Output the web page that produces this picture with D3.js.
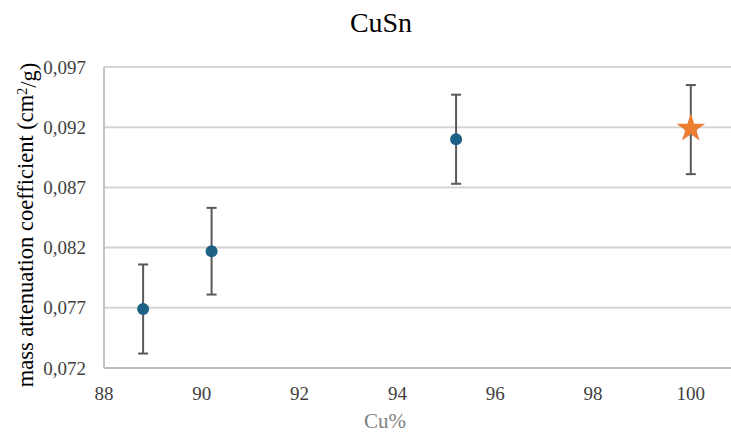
<!DOCTYPE html>
<html>
<head>
<meta charset="utf-8">
<script src="https://cdnjs.cloudflare.com/ajax/libs/d3/7.8.5/d3.min.js"></script>
<style>
  body { margin: 0; background: #fff; }
  text { font-family: "Liberation Serif", "Times New Roman", serif; }
</style>
</head>
<body>
<div id="chart"></div>
<script>
// data
const cuPercent = [88.8, 90.2, 95.2, 100];
const attenuation = [0.0769, 0.0817, 0.0910, 0.0918];
const errors = [0.0037, 0.0036, 0.0037, 0.0037];
const pureCu = [{ x: 100, y: 0.0919 }];
const yTicks = [0.072, 0.077, 0.082, 0.087, 0.092, 0.097];
const xTicks = [88, 90, 92, 94, 96, 98, 100];

const width = 731, height = 432;

const svg = d3.select("#chart")
    .append("svg")
    .attr("width", width)
    .attr("height", height);

const x = d3.scaleLinear()
    .domain([88, 102])
    .range([104, 104 + 14 * 48.9]);

const y = d3.scaleLinear()
    .domain([0.072, 0.097])
    .range([368, 67]);

const fmt = d => d3.format(".3f")(d).replace(".", ",");

// horizontal gridlines
svg.append("g")
    .selectAll("line")
    .data(yTicks)
    .enter().append("line")
    .attr("x1", x(88))
    .attr("x2", width)
    .attr("y1", d => y(d))
    .attr("y2", d => y(d))
    .style("stroke", d => d === 0.072 ? "#bcbcbc" : "#d4d4d4")
    .style("stroke-width", 2);

// left axis line
svg.append("line")
    .attr("x1", x(88)).attr("x2", x(88))
    .attr("y1", y(0.097)).attr("y2", y(0.072))
    .style("stroke", "#c4c4c4")
    .style("stroke-width", 2);

// y tick labels
svg.append("g")
    .selectAll("text")
    .data(yTicks)
    .enter().append("text")
    .attr("x", 86)
    .attr("y", d => y(d))
    .attr("dy", "0.35em")
    .attr("text-anchor", "end")
    .style("font-size", "19px")
    .style("fill", "#404040")
    .text(fmt);

// x tick labels
svg.append("g")
    .selectAll("text")
    .data(xTicks)
    .enter().append("text")
    .attr("x", d => x(d))
    .attr("y", 400)
    .attr("text-anchor", "middle")
    .style("font-size", "19px")
    .style("fill", "#404040")
    .text(d => d);

// titles
svg.append("text")
    .attr("x", 381)
    .attr("y", 32)
    .attr("text-anchor", "middle")
    .style("font-size", "28px")
    .style("fill", "#000")
    .text("CuSn");

svg.append("text")
    .attr("x", 385)
    .attr("y", 428)
    .attr("text-anchor", "middle")
    .style("font-size", "21px")
    .style("fill", "#7f7f7f")
    .text("Cu%");

const yTitle = svg.append("text")
    .attr("transform", "translate(33,225) rotate(-90)")
    .attr("text-anchor", "middle")
    .style("font-size", "22.5px")
    .style("fill", "#000");
yTitle.append("tspan").text("mass attenuation coefficient (cm");
yTitle.append("tspan").attr("dy", "-0.4em").style("font-size", "14px").text("2");
yTitle.append("tspan").attr("dy", "0.4em").text("/g)");

const points = cuPercent.map((c, i) => ({ x: c, y: attenuation[i], e: errors[i] }));

// error bars
const eb = svg.append("g")
    .selectAll("g")
    .data(points)
    .enter().append("g")
    .style("stroke", "#595959")
    .style("stroke-width", 2);

eb.append("line")
    .attr("x1", d => x(d.x)).attr("x2", d => x(d.x))
    .attr("y1", d => y(d.y - d.e)).attr("y2", d => y(d.y + d.e));
eb.append("line")
    .attr("x1", d => x(d.x) - 5).attr("x2", d => x(d.x) + 5)
    .attr("y1", d => y(d.y + d.e)).attr("y2", d => y(d.y + d.e));
eb.append("line")
    .attr("x1", d => x(d.x) - 5).attr("x2", d => x(d.x) + 5)
    .attr("y1", d => y(d.y - d.e)).attr("y2", d => y(d.y - d.e));

svg.selectAll(".dot")
    .data(points)
    .enter().append("circle")
    .attr("class", "dot")
    .attr("cx", d => x(d.x))
    .attr("cy", d => y(d.y))
    .attr("r", 6)
    .style("fill", "#1d6187");

svg.selectAll(".star")
    .data(pureCu)
    .enter().append("path")
    .attr("class", "star")
    .attr("d", d3.symbol(d3.symbolStar).size(255))
    .attr("transform", d => `translate(${x(d.x)},${y(d.y)})`)
    .style("fill", "#ed7d31");
</script>
</body>
</html>
